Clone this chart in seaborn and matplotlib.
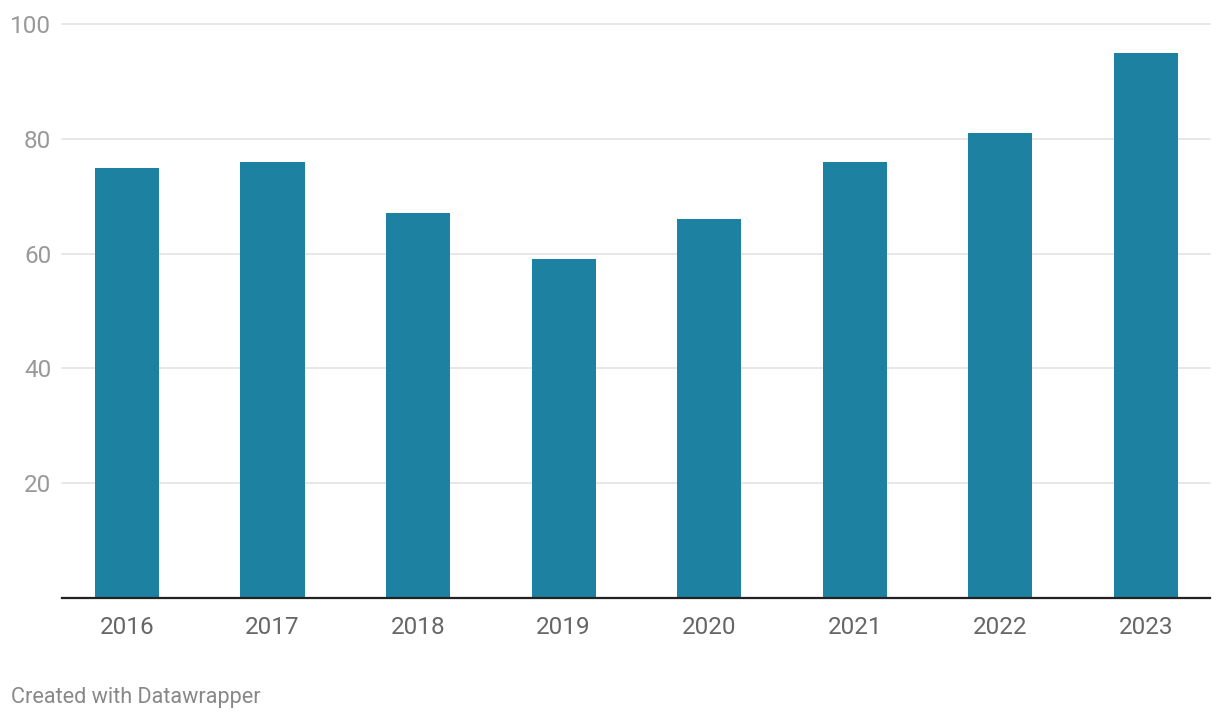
import matplotlib
matplotlib.use("Agg")
import matplotlib.pyplot as plt
import seaborn as sns
import pandas as pd

years = ["2016", "2017", "2018", "2019", "2020", "2021", "2022", "2023"]
values = [75, 76, 67, 59, 66, 76, 81, 95]
y_ticks = [20, 40, 60, 80, 100]

sns.set_theme(style="white")
plt.rcParams['font.family'] = ['Roboto', 'DejaVu Sans']

W, H = 1220, 720
fig = plt.figure(figsize=(W / 100, H / 100), dpi=100)
ax = fig.add_axes([62 / W, 1 - 598 / H, (1210 - 62) / W, (598 - 24) / H])

df = pd.DataFrame({"year": years, "value": values})
sns.barplot(data=df, x="year", y="value", color="#1d81a2", width=0.44,
            saturation=1, ax=ax, zorder=3, linewidth=0, edgecolor="none")

ax.set_xlim(-0.446, len(years) - 1 + 0.44)
ax.set_ylim(0, 100)
ax.set_yticks(y_ticks)
ax.grid(axis="y", color="#e3e3e3", linewidth=1.2, zorder=0)
for gl in ax.get_ygridlines():
    gl.set_clip_on(False)
for s in ["left", "right", "top"]:
    ax.spines[s].set_visible(False)
ax.spines["bottom"].set_color("#222222")
ax.spines["bottom"].set_linewidth(1.6)
ax.spines["bottom"].set_zorder(4)
ax.set_xlabel("")
ax.set_ylabel("")
ax.tick_params(axis="x", length=0, pad=13, labelsize=17.5, labelcolor="#666666")
ax.tick_params(axis="y", length=0, pad=7.7, labelsize=17.5, labelcolor="#999999")

fig.text(11 / W, 1 - 697 / H, "Created with Datawrapper", fontsize=15.6,
         color="#888888", ha="left", va="center")

fig.savefig("out.png", dpi=100)
